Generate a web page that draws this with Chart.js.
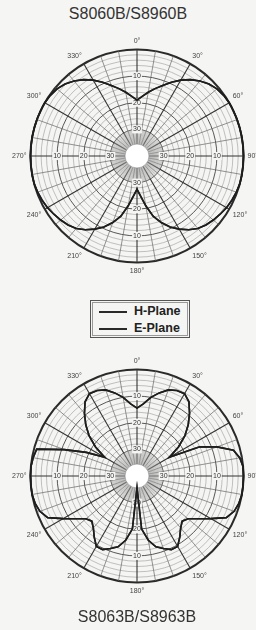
<!DOCTYPE html>
<html>
<head>
<meta charset="utf-8">
<script src="https://cdn.jsdelivr.net/npm/chart.js@4.4.0/dist/chart.umd.min.js"></script>
<style>
  body {
    margin: 0;
    width: 256px;
    height: 630px;
    overflow: hidden;
    position: relative;
    background: #f5f5f3;
    font-family: "Liberation Sans", Arial, sans-serif;
  }
  .title {
    position: absolute;
    width: 160px;
    text-align: center;
    font-size: 16px;
    color: #333;
  }
  canvas { position: absolute; left: 0; }
  .legend {
    position: absolute;
    left: 90px;
    top: 300px;
    width: 98px;
    height: 36px;
    border: 1px solid #555;
    box-shadow: inset 0 0 0 1px #f5f5f3, inset 0 0 0 2px #999;
    font-size: 12.5px;
    font-weight: bold;
    color: #222;
  }
  .legend div { position: absolute; left: 8px; height: 14px; line-height: 14px; white-space: nowrap; }
  .legend span.line {
    display: inline-block;
    width: 28px;
    height: 0;
    border-top: 2px solid #2a2a2a;
    vertical-align: middle;
    margin-right: 7px;
  }
</style>
</head>
<body>
<div class="title" style="top:5px; left:48px">S8060B/S8960B</div>
<canvas id="topChart" width="272" height="272" style="top:20px"></canvas>

<div class="legend">
  <div style="top:3px"><span class="line"></span>H-Plane</div>
  <div style="top:20px"><span class="line"></span>E-Plane</div>
</div>

<canvas id="bottomChart" width="272" height="272" style="top:340px"></canvas>
<div class="title" style="top:608px; left:57px">S8063B/S8963B</div>

<script>
// angle in degrees, clockwise from the front (0°)
const angleLabels = [
  0, 5, 10, 15, 20, 25, 30, 35, 40, 45, 50, 55,
  60, 65, 70, 75, 80, 85, 90, 95, 100, 105, 110, 115,
  120, 125, 130, 135, 140, 145, 150, 155, 160, 165, 170, 175,
  180, 185, 190, 195, 200, 205, 210, 215, 220, 225, 230, 235,
  240, 245, 250, 255, 260, 265, 270, 275, 280, 285, 290, 295,
  300, 305, 310, 315, 320, 325, 330, 335, 340, 345, 350, 355,
];

// relative level in dB
const topH = [
  -19, -17.5, -15.7, -13.8, -11.8, -9.4, -7.1, -5, -3.2, -1.8, -0.8, -0.3,
  0, 0, 0, 0, 0, 0, 0, 0, 0, 0, -0.3, -0.7,
  -1.2, -1.9, -2.6, -3.4, -4.5, -6.2, -8.3, -10.6, -13.4, -16.6, -21, -25,
  -27.5, -25, -21, -16.6, -13.4, -10.6, -8.3, -6.2, -4.5, -3.4, -2.6, -1.9,
  -1.2, -0.7, -0.3, 0, 0, 0, 0, 0, 0, 0, 0, 0,
  0, -0.3, -0.8, -1.8, -3.2, -5, -7.1, -9.4, -11.8, -13.8, -15.7, -17.5,
];
// E-plane trace lies on top of the H-plane trace in this plot
const topE = topH.slice();

const bottomH = [
  -14.5, -12.8, -10, -7.7, -5.6, -4.6, -4.3, -6, -9.3, -12.8, -16.5, -21,
  -26, -14, -8, -2.5, -0.8, 0, 0, 0, 0, -0.4, -1.2, -3,
  -8, -12, -15, -16, -14.5, -12, -9.5, -9.5, -11, -12.5, -15.5, -20,
  -35.5, -20, -15.5, -12.5, -11, -9.5, -9.5, -12, -14.5, -16, -15, -12,
  -8, -3, -1.2, -0.4, 0, 0, 0, 0, -0.4, -1, -11, -19,
  -26, -21, -16.5, -12.8, -9.3, -6, -4.3, -4.6, -5.6, -7.7, -10, -12.8,
];
const bottomE = bottomH.slice();

const ringLabels = [-10, -20, -30];
const holeLevel = -35.5;

const polarDecor = {
  id: "polarDecor",
  beforeDatasetsDraw(chart) {
    const r = chart.scales.r;
    const ctx = chart.ctx;
    const n = chart.data.labels.length;
    const rHole = r.getDistanceFromCenterForValue(holeLevel);
    const rInner = r.getDistanceFromCenterForValue(-30);

    ctx.save();
    // fine spokes round the hub
    ctx.strokeStyle = "#9a9a9a";
    ctx.lineWidth = 0.5;
    ctx.beginPath();
    for (let i = 0; i < n; i += 0.5) {
      const a = r.getPointPosition(i, rHole);
      const b = r.getPointPosition(i, rInner);
      ctx.moveTo(a.x, a.y);
      ctx.lineTo(b.x, b.y);
    }
    ctx.stroke();

    // hub
    ctx.fillStyle = "#fff";
    ctx.beginPath();
    ctx.arc(r.xCenter, r.yCenter, rHole, 0, Math.PI * 2);
    ctx.fill();
    ctx.strokeStyle = "#888";
    ctx.lineWidth = 0.6;
    ctx.stroke();

    // ring values on the four main axes
    ctx.font = "7px 'Liberation Sans', Arial, sans-serif";
    ctx.textAlign = "center";
    ctx.textBaseline = "middle";
    ringLabels.forEach((v) => {
      const d = r.getDistanceFromCenterForValue(v);
      const txt = String(-v);
      const w = ctx.measureText(txt).width;
      [0, n / 4, n / 2, (3 * n) / 4].forEach((idx) => {
        const p = r.getPointPosition(idx, d);
        ctx.fillStyle = "#f5f5f3";
        ctx.fillRect(p.x - w / 2 - 1, p.y - 4, w + 2, 8);
        ctx.fillStyle = "#333";
        ctx.fillText(txt, p.x, p.y);
      });
    });
    ctx.restore();
  },
};

function makePolar(id, hData, eData) {
  return new Chart(document.getElementById(id), {
    type: "radar",
    data: {
      labels: angleLabels,
      datasets: [
        {
          label: "H-Plane",
          data: hData,
          borderColor: "#1e1e1e",
          borderWidth: 1.6,
          pointRadius: 0,
          fill: false,
          tension: 0,
        },
        {
          label: "E-Plane",
          data: eData,
          borderColor: "#1e1e1e",
          borderWidth: 1.6,
          pointRadius: 0,
          fill: false,
          tension: 0,
        },
      ],
    },
    options: {
      responsive: false,
      animation: false,
      layout: { padding: 11 },
      plugins: {
        legend: { display: false },
        tooltip: { enabled: false },
      },
      scales: {
        r: {
          min: -40,
          max: 0,
          ticks: { stepSize: 2, display: false },
          grid: {
            circular: true,
            color: (c) => {
              const v = c.tick.value;
              if (v === 0) return "#2a2a2a";
              if (v < -30) return "rgba(0,0,0,0)";
              return v % 10 === 0 ? "#444" : "#9a9a9a";
            },
            lineWidth: (c) => {
              const v = c.tick.value;
              if (v === 0) return 2;
              return v % 10 === 0 ? 0.9 : 0.6;
            },
          },
          angleLines: {
            color: (c) =>
              c.index % 6 === 0 ? "#333" : c.index % 2 === 0 ? "#666" : "rgba(0,0,0,0)",
            lineWidth: (c) => (c.index % 6 === 0 ? 1.1 : 0.7),
          },
          pointLabels: {
            padding: 4,
            color: "#444",
            font: { size: 7, family: "'Liberation Sans', Arial, sans-serif" },
            callback: (label, index) => (index % 6 === 0 ? label + "°" : ""),
          },
        },
      },
    },
    plugins: [polarDecor],
  });
}

const topChart = makePolar("topChart", topH, topE);
const bottomChart = makePolar("bottomChart", bottomH, bottomE);
</script>
</body>
</html>
